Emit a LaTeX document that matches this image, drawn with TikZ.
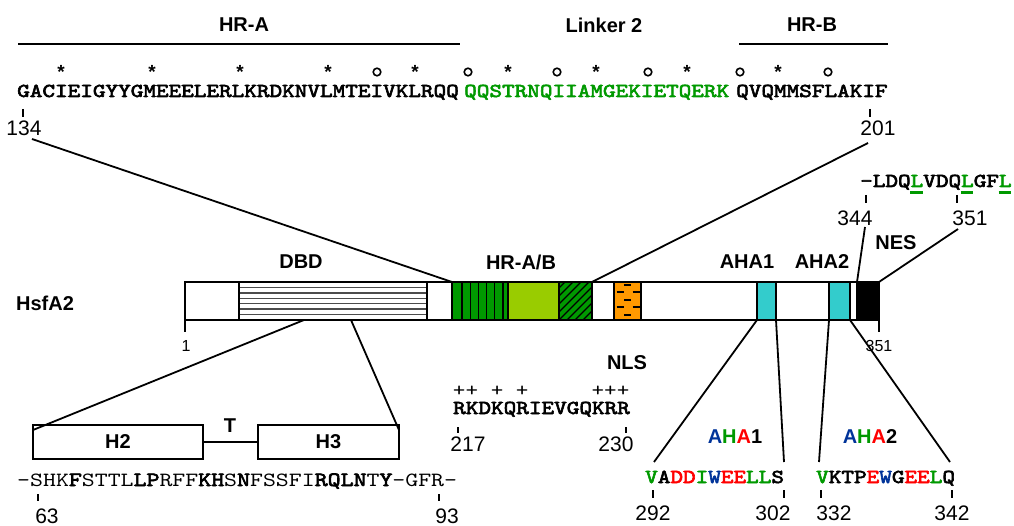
\documentclass[tikz,border=0pt]{standalone}
\usepackage{fontspec}
\setmainfont{Liberation Sans}
\newfontfamily\seqfont{lmmono10-regular}[Extension=.otf, FakeStretch=1.22, BoldFont=lmmono10-regular, BoldFeatures={FakeBold=3.2}]

\definecolor{dkgreen}{RGB}{0,153,0}
\definecolor{ltgreen}{RGB}{153,204,0}
\definecolor{nlsorange}{RGB}{255,153,0}
\definecolor{ahacyan}{RGB}{51,204,204}
\definecolor{ahablue}{RGB}{0,51,153}
\definecolor{ahared}{RGB}{255,0,0}

\newcommand{\G}[1]{\textcolor{dkgreen}{#1}}
\newcommand{\R}[1]{\textcolor{ahared}{#1}}
\newcommand{\B}[1]{\textcolor{ahablue}{#1}}

\tikzset{
  lbl/.style={font=\fontsize{20}{20}\selectfont\bfseries, inner sep=0},
  num/.style={font=\fontsize{21}{21}\selectfont, inner sep=0},
  smallnum/.style={font=\fontsize{16}{16}\selectfont, inner sep=0},
  seqb/.style={font=\fontsize{19.7}{19.7}\seqfont\bfseries, inner sep=0, anchor=base west},
  seqr/.style={font=\fontsize{20.2}{20.2}\seqfont, inner sep=0, anchor=base west},
  heptad/.style={font=\fontsize{19}{19}\bfseries, inner sep=0},
  plus/.style={font=\fontsize{19.7}{19.7}\seqfont, inner sep=0},
  seg/.style={draw, line width=1.6, inner sep=0, outer sep=0, anchor=north west, minimum height=38},
  hbox/.style={draw, line width=1.6, inner sep=0, outer sep=0, anchor=north west, minimum height=34},
  conn/.style={line width=1.8},
  tick/.style={line width=1.8},
}

\begin{document}
\begin{tikzpicture}[x=1pt,y=-1pt]
\useasboundingbox (0,0) rectangle (1014,526);

% ---------- heptad repeat region ----------
\node[lbl] (hra) at (244,25) {HR-A};
\node[lbl] (lk2) at (604,25) {Linker 2};
\node[lbl] (hrb) at (812,25) {HR-B};
\draw[line width=1.8] (18,44) -- (460,44);
\draw[line width=1.8] (739,44) -- (888,44);

% heptad position marks
\foreach \x in {61,152,240,328,415,508,596,687,778}
  \node[heptad] at (\x,72) {*};
\foreach \x in {377,468,557,648,740,828}
  \draw[line width=1.6] (\x,72) circle (3.8);

\node[seqb] (seqa) at (17,97) {GACIEIGYYGMEEELERLKRDKNVLMTEIVKLRQQ};
\node[seqb] (seql) at (464,97) {\G{QQSTRNQIIAMGEKIETQERK}};
\node[seqb] (seqbb) at (736,97) {QVQMMSFLAKIF};

\draw[tick] (23,109) -- (23,117);
\node[num] (n134) at (24,128) {134};
\draw[tick] (870,109) -- (870,117);
\node[num] (n201) at (878,128) {201};
\coordinate (c134) at (32,139);
\coordinate (c201) at (868,143);

% ---------- NES sequence ----------
\node[seqb] (nesseq) at (860,187) {-LDQ\G{L}VDQ\G{L}GF\G{L}};
\foreach \i in {4,8,11}
  \draw[dkgreen, line width=2.6] (860+12.6*\i,192.5) -- (860+12.6*\i+12.6,192.5);
\draw[tick] (866,195) -- (866,203);
\node[num] (n344) at (855,218) {344};
\draw[tick] (957,195) -- (957,203);
\node[num] (n351t) at (970,218) {351};
\coordinate (c344) at (865,227);
\coordinate (c351) at (958,229);

% ---------- protein bar ----------
\node[lbl] (hsf) at (45,303) {HsfA2};
\node[lbl] at (301,262) {DBD};
\node[lbl] at (521,262) {HR-A/B};
\node[lbl] at (747,262) {AHA1};
\node[lbl] at (822,262) {AHA2};
\node[lbl] at (896,243) {NES};

\node[seg, minimum width=694] (bar) at (185,282) {};
% DNA binding domain with horizontal stripes
\node[seg, minimum width=188] (dbd) at (239,282) {};
\foreach \k in {1,...,6}
  \draw[black!70, line width=1.3] (240,282+\k*38/7) -- (426,282+\k*38/7);
% HR-A block, vertically striped
\node[seg, minimum width=56, fill=dkgreen] (hrab) at (452,282) {};
\foreach \x in {462,470.2,478.4,486.6,494.8,503}
  \draw[line width=1.2] (\x,282) -- (\x,320);
% linker block
\node[seg, minimum width=51, fill=ltgreen] (link) at (508,282) {};
% HR-B block, hatched
\node[seg, minimum width=33, fill=dkgreen] (hrbb) at (559,282) {};
\begin{scope}
  \clip (559,282) rectangle (592,320);
  \foreach \s in {-40,-32,...,40}
    \draw[line width=1.2] (559+\s,320) -- (559+\s+38,282);
\end{scope}
\draw[line width=1.6] (559,282) rectangle (592,320);
% nuclear localisation signal block
\node[seg, minimum width=27, fill=nlsorange] (nls) at (614,282) {};
\foreach \xx/\yy in {627.5/285, 620/292.5, 636/292.5, 627.5/300, 620/307.5, 636/307.5, 627.5/315}
  \draw[line width=2] (\xx-3.5,\yy) -- (\xx+3.5,\yy);
% activator motifs and export signal
\node[seg, minimum width=19, fill=ahacyan] (aha1) at (757,282) {};
\node[seg, minimum width=21, fill=ahacyan] (aha2) at (829,282) {};
\node[seg, minimum width=22, fill=black] (nes) at (857,282) {};
\draw[line width=1.6] (185,282) rectangle (879,320);

\draw[tick] (185,320) -- (185,332);
\node[smallnum] at (186,346) {1};
\draw[tick] (879,320) -- (879,332);
\node[smallnum] at (879,346) {351};

% zoom connectors to the heptad repeat sequence and NES
\draw[conn] (c134) -- (hrab.north west);
\draw[conn] (c201) -- (hrbb.north east);
\draw[conn] (c344) -- (nes.north west);
\draw[conn] (c351) -- (nes.north east);

% ---------- DBD detail ----------
\coordinate (dbdl) at (304,320);
\coordinate (dbdr) at (351,320);
\node[hbox, minimum width=170] (h2) at (33,425) {};
\node[hbox, minimum width=141] (h3) at (258,425) {};
\node[lbl] at (h2.center) {H2};
\node[lbl] at (h3.center) {H3};
\draw[line width=1.6] (h2.east) -- (h3.west);
\node[lbl] at (230,426) {T};
\draw[conn] (dbdl) -- ([yshift=-5]h2.north west);
\draw[conn] (dbdr) -- ([yshift=-5]h3.north east);

\node[seqr] (dbdseq) at (17,486) {-SHK{\bfseries F}STTL{\bfseries LP}RFF{\bfseries KH}S{\bfseries N}FSSFI{\bfseries RQLN}T{\bfseries Y}-GFR-};
\draw[tick] (38,494) -- (38,501);
\node[num] at (47,516) {63};
\draw[tick] (439,494) -- (439,501);
\node[num] at (447,516) {93};

% ---------- NLS detail ----------
\node[lbl] at (627,363) {NLS};
\foreach \i in {0,1,3,5,11,12,13}
  \node[plus] at (453+12.6*\i+6.3,391) {+};
\node[seqb] (nlsseq) at (453,414) {RKDKQRIEVGQKRR};
\draw[tick] (458,427) -- (458,433);
\node[num] at (468,444) {217};
\draw[tick] (626,427) -- (626,433);
\node[num] at (616,444) {230};

% ---------- AHA details ----------
\node[lbl] at (735,437) {\B{A}\G{H}\R{A}1};
\node[lbl] at (870,437) {\B{A}\G{H}\R{A}2};
\node[seqb] (aha1seq) at (645,483) {\G{V}A\R{DD}\G{I}\B{W}\R{EE}\G{LL}S};
\node[seqb] (aha2seq) at (816,483) {\G{V}KTP\R{E}\B{W}G\R{EE}\G{L}Q};
\coordinate (a1l) at (654,462);
\coordinate (a1r) at (784,462);
\coordinate (a2l) at (819,462);
\coordinate (a2r) at (950,462);
\draw[conn] (aha1.south west) -- (a1l);
\draw[conn] (aha1.south east) -- (a1r);
\draw[conn] (aha2.south west) -- (a2l);
\draw[conn] (aha2.south east) -- (a2r);

\draw[tick] (653,490) -- (653,498);
\node[num] at (653,513) {292};
\draw[tick] (784,490) -- (784,498);
\node[num] at (773,513) {302};
\draw[tick] (821,490) -- (821,498);
\node[num] at (834,513) {332};
\draw[tick] (952,490) -- (952,498);
\node[num] at (952,513) {342};
\end{tikzpicture}
\end{document}
